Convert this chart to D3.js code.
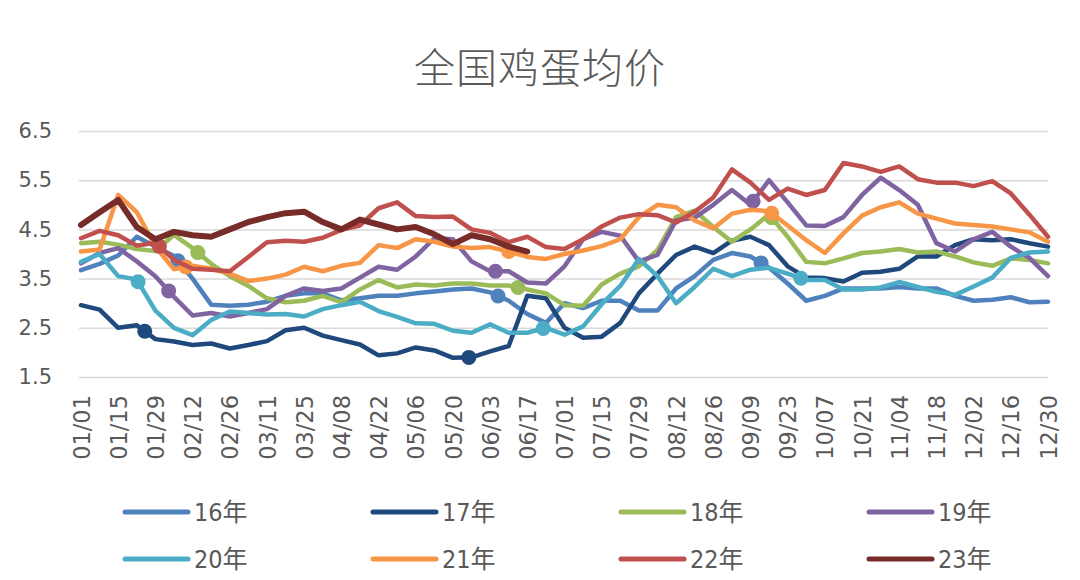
<!DOCTYPE html>
<html><head><meta charset="utf-8">
<script src="https://cdn.jsdelivr.net/npm/d3@7"></script>
<style>body{margin:0;background:#fff}svg{display:block}</style>
</head><body>
<svg id="chart" width="1080" height="580"></svg>
<script>
const chartTitle = "全国鸡蛋均价";
const seriesNames = ["16年","17年","18年","19年","20年","21年","22年","23年"];
const seriesColors = ["#4F81BD","#1F497D","#9BBB59","#8064A2","#4BACC6","#F79646","#C0504D","#772C2A"];
const tickLabels = ["01/01","01/15","01/29","02/12","02/26","03/11","03/25","04/08","04/22","05/06","05/20","06/03","06/17","07/01","07/15","07/29","08/12","08/26","09/09","09/23","10/07","10/21","11/04","11/18","12/02","12/16","12/30"];
const yTickValues = [1.5,2.5,3.5,4.5,5.5,6.5];
const sampleStepDays = 7;

const y16 = [3.67,3.8,3.97,4.35,4.15,3.96,3.5,2.97,2.95,2.97,3.03,3.15,3.2,3.2,3.06,3.1,3.15,3.15,3.2,3.24,3.28,3.3,3.22,3.05,2.78,2.6,3.0,2.9,3.05,3.05,2.85,2.85,3.3,3.55,3.88,4.02,3.95,3.72,3.4,3.05,3.15,3.3,3.3,3.3,3.33,3.3,3.3,3.15,3.05,3.07,3.12,3.02,3.03];
const y17 = [2.96,2.87,2.5,2.55,2.27,2.22,2.15,2.18,2.08,2.15,2.23,2.45,2.5,2.34,2.25,2.16,1.94,1.98,2.1,2.04,1.89,1.9,2.02,2.13,3.15,3.1,2.5,2.3,2.32,2.6,3.2,3.6,3.98,4.15,4.02,4.27,4.35,4.18,3.75,3.52,3.51,3.44,3.62,3.64,3.7,3.95,3.95,4.18,4.3,4.28,4.3,4.22,4.15];
const y18 = [4.22,4.25,4.19,4.1,4.06,4.39,4.12,3.8,3.55,3.35,3.1,3.02,3.05,3.15,3.02,3.28,3.47,3.32,3.38,3.36,3.4,3.4,3.36,3.36,3.28,3.2,2.96,2.95,3.38,3.6,3.75,4.08,4.75,4.88,4.55,4.25,4.5,4.8,4.35,3.84,3.81,3.91,4.02,4.05,4.1,4.03,4.05,3.95,3.83,3.76,3.91,3.88,3.81];
const y19 = [3.81,4.02,4.12,3.85,3.55,3.13,2.75,2.8,2.73,2.8,2.88,3.15,3.3,3.25,3.3,3.52,3.74,3.68,3.95,4.32,4.3,3.85,3.65,3.65,3.42,3.4,3.75,4.3,4.45,4.37,3.85,3.98,4.68,4.74,5.0,5.3,5.0,5.5,5.05,4.58,4.57,4.75,5.2,5.55,5.3,5.0,4.22,4.05,4.3,4.45,4.15,3.92,3.55];
const y20 = [3.84,4.0,3.55,3.48,2.85,2.5,2.35,2.66,2.83,2.8,2.77,2.78,2.73,2.88,2.96,3.03,2.84,2.72,2.59,2.58,2.44,2.4,2.57,2.4,2.4,2.5,2.36,2.53,2.98,3.35,3.9,3.55,3.0,3.33,3.7,3.55,3.68,3.72,3.6,3.47,3.47,3.28,3.28,3.32,3.43,3.33,3.23,3.17,3.34,3.52,3.92,4.03,4.05];
const y21 = [4.05,4.09,5.2,4.85,4.15,3.69,3.76,3.7,3.6,3.45,3.5,3.58,3.74,3.65,3.76,3.82,4.18,4.12,4.3,4.25,4.15,4.12,4.14,4.05,3.94,3.9,4.0,4.07,4.16,4.3,4.75,5.0,4.95,4.68,4.52,4.82,4.9,4.87,4.58,4.28,4.02,4.42,4.78,4.95,5.05,4.82,4.72,4.62,4.59,4.56,4.5,4.44,4.25];
const y22 = [4.32,4.47,4.38,4.17,4.23,3.88,3.7,3.68,3.65,3.94,4.24,4.27,4.25,4.33,4.49,4.58,4.93,5.05,4.77,4.75,4.76,4.5,4.43,4.24,4.35,4.14,4.1,4.3,4.56,4.74,4.81,4.79,4.64,4.86,5.15,5.72,5.45,5.1,5.33,5.2,5.3,5.85,5.78,5.67,5.78,5.52,5.45,5.45,5.38,5.48,5.23,4.8,4.35];
const y23 = [4.59,4.85,5.1,4.55,4.3,4.45,4.38,4.35,4.5,4.65,4.75,4.83,4.86,4.65,4.5,4.7,4.6,4.5,4.55,4.4,4.2,4.38,4.3,4.15,4.05];

// festival marker days (day-of-year index) per series
const mark16 = [36.5,157,256];
const mark17 = [24,146];
const mark18 = [44,164.5,260];
const mark19 = [33,156,253];
const mark20 = [21.5,174,271];
const mark21 = [39.5,161,260];
const mark22 = [29.5];
const mark23 = [];

const seriesValues = [y16,y17,y18,y19,y20,y21,y22,y23];
const seriesMarks = [mark16,mark17,mark18,mark19,mark20,mark21,mark22,mark23];

const svg = d3.select("#chart");
const grey = "#595959";
const x = d3.scaleLinear().domain([0,364]).range([81,1048]);
const y = d3.scaleLinear().domain([1.5,6.5]).range([377,131]);
const gridLeft = 79, gridRight = 1048;

// title
svg.append("text").attr("x",540).attr("y",83).attr("text-anchor","middle")
  .style("font-family","'Noto Sans CJK SC','Noto Sans',sans-serif").style("font-weight",300)
  .style("font-size","41px").style("fill",grey).style("letter-spacing","1px").text(chartTitle);

// y axis + grid
const yAxis = d3.axisLeft(y).tickValues(yTickValues).tickFormat(d3.format(".1f"))
  .tickSize(-(gridRight-gridLeft)).tickPadding(27);
const gy = svg.append("g").attr("transform",`translate(${gridLeft},0)`).call(yAxis);
gy.select(".domain").remove();
gy.selectAll(".tick line").attr("stroke","#D9D9D9").attr("stroke-width",1.5);
gy.selectAll(".tick text").style("font-family","'DejaVu Sans',sans-serif").style("font-size","21px").style("fill",grey);

// x axis
const xAxis = d3.axisBottom(x).tickValues(d3.range(0,365,14)).tickFormat((d,i)=>tickLabels[i]).tickSize(0);
const gx = svg.append("g").attr("transform","translate(0,377)").call(xAxis);
gx.select(".domain").remove();
gx.selectAll(".tick text").attr("transform","rotate(-90)").attr("x",-18).attr("y",0).attr("dy","0.36em")
  .style("text-anchor","end").style("font-family","'DejaVu Sans',sans-serif").style("font-size","22.5px").style("fill",grey);

// lines
const line = d3.line().x((d,i)=>x(i*sampleStepDays)).y(d=>y(d)).curve(d3.curveLinear);
function valueAt(vals, day){
  const t = day/sampleStepDays, i = Math.floor(t), f = t - i;
  if (i >= vals.length-1) return vals[vals.length-1];
  return vals[i]*(1-f) + vals[i+1]*f;
}
seriesValues.forEach((vals,si)=>{
  const g = svg.append("g");
  g.append("path").datum(vals).attr("d",line).attr("fill","none")
    .attr("stroke",seriesColors[si]).attr("stroke-width", si===7?6:4.5)
    .attr("stroke-linejoin","round").attr("stroke-linecap","round");
  g.selectAll("circle").data(seriesMarks[si]).join("circle")
    .attr("cx",d=>x(d)).attr("cy",d=>y(valueAt(vals,d))).attr("r",7.5)
    .attr("fill",seriesColors[si]);
});

// legend
const legend = svg.append("g");
seriesNames.forEach((name,i)=>{
  const col = i%4, row = Math.floor(i/4);
  const lx = 125 + col*248, ly = 512 + row*47;
  legend.append("line").attr("x1",lx).attr("x2",lx+63).attr("y1",ly).attr("y2",ly)
    .attr("stroke",seriesColors[i]).attr("stroke-width",5).attr("stroke-linecap","round");
  legend.append("text").attr("x",lx+69).attr("y",ly+9)
    .style("font-family","'Liberation Sans Narrow','DejaVu Sans Condensed','Noto Sans CJK SC',sans-serif")
    .style("font-size","25px").style("fill",grey).text(name);
});
</script>
</body></html>
